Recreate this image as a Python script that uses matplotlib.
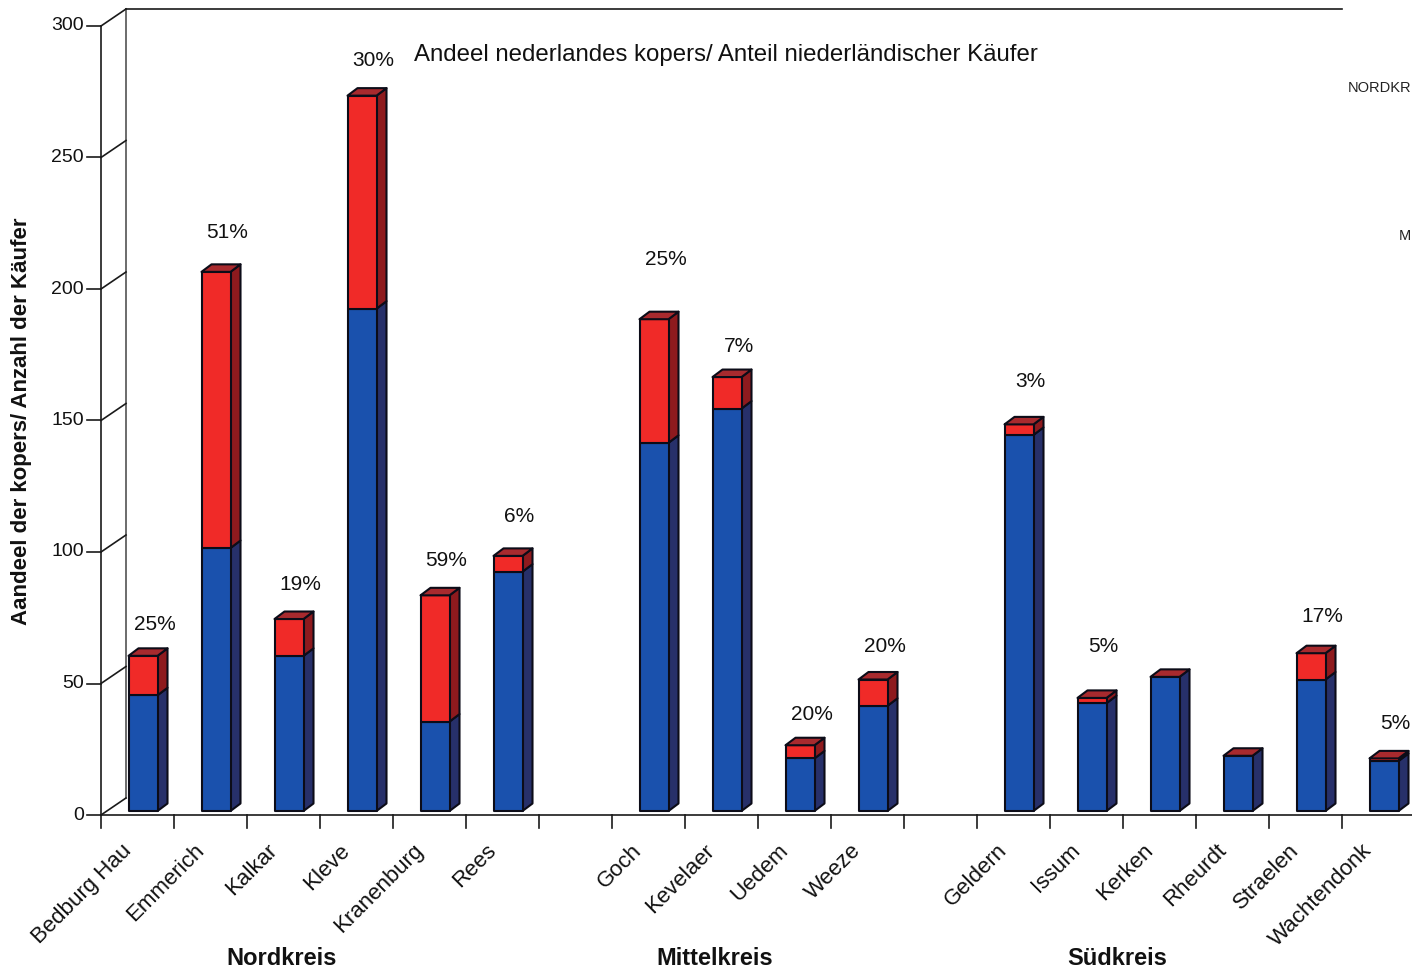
import matplotlib
matplotlib.use("Agg")
import matplotlib.pyplot as plt
from matplotlib import font_manager
from matplotlib.patches import Polygon

# ---- data -------------------------------------------------------------
towns = ["Bedburg Hau", "Emmerich", "Kalkar", "Kleve", "Kranenburg", "Rees",
         "Goch", "Kevelaer", "Uedem", "Weeze",
         "Geldern", "Issum", "Kerken", "Rheurdt", "Straelen", "Wachtendonk"]
# slot index of each town along the category axis (empty slots separate the districts)
slots = [0, 1, 2, 3, 4, 5, 7, 8, 9, 10, 12, 13, 14, 15, 16, 17]
other_buyers = [44, 100, 59, 191, 34, 91, 140, 153, 20, 40, 143, 41, 51, 21, 50, 19]
dutch_buyers = [15, 105, 14, 81, 48, 6, 47, 12, 5, 10, 4, 2, 0, 0, 10, 1]
share_labels = ["25%", "51%", "19%", "30%", "59%", "6%", "25%", "7%", "20%", "20%",
                "3%", "5%", "", "", "17%", "5%"]
# extra lift of each share label above its bar (pixels)
label_lift = [24, 32, 27, 28, 27, 32, 52, 23, 23, 25, 35, 44, 0, 0, 29, 27]
districts = ["Nordkreis", "Mittelkreis", "Südkreis"]
district_pos = [2.48, 8.41, 13.92]
y_ticks = [0, 50, 100, 150, 200, 250, 300]

# ---- fonts --------------------------------------------------------------
def available(name):
    try:
        font_manager.findfont(font_manager.FontProperties(family=name),
                              fallback_to_default=False)
        return True
    except Exception:
        return False

REG = ["Liberation Sans", "DejaVu Sans"]
NARROW = (["Liberation Sans Narrow"] if available("Liberation Sans Narrow") else []) + REG
plt.rcParams["font.family"] = REG

# ---- figure / axes -------------------------------------------------------
W, H = 1412, 972
fig = plt.figure(figsize=(W / 100, H / 100), dpi=100)
x0_px, x1_px = 101, 101 + 18 * 73
y0_px, y1_px = 815, 26
ax = fig.add_axes([x0_px / W, 1 - y0_px / H, (x1_px - x0_px) / W, (y0_px - y1_px) / H])
ax.set_xlim(0, 18)
ax.set_ylim(0, 300)
ax.axis("off")

px_x = 18 / (x1_px - x0_px)       # data units per pixel (x)
px_y = 300 / (y0_px - y1_px)      # data units per pixel (y)

# depth of the back wall and of the bars
wall_dx, wall_dy = 25 * px_x, 17 * px_y
front_dx, front_dy = 5.5 * px_x, 4 * px_y
bar_dx, bar_dy = 10 * px_x, 7.5 * px_y
bar_w = 29 * px_x

ln = dict(color="#1a1a1a", lw=1.2, clip_on=False)

# front axis lines
ax.plot([0, 0], [0, 300], **ln)
ax.plot([0, 18], [0, 0], **ln)
# back wall edge and top
ax.plot([wall_dx, wall_dx], [wall_dy, 300 + wall_dy], color="#444444", lw=1.1, clip_on=False)
ax.plot([wall_dx, 17 - 0.34 + wall_dx], [300 + wall_dy, 300 + wall_dy], **ln)

tick_len_y = 14 * px_x
for v in y_ticks:
    ax.plot([-tick_len_y, 0], [v, v], **ln)
    ax.plot([0, wall_dx], [v, v + wall_dy], **ln)
    ax.text(-tick_len_y - 3 * px_x, v, str(v), ha="right", va="center",
            fontsize=14, color="#111111", clip_on=False)

for s in range(19):
    ax.plot([s, s], [0, -13 * px_y], **ln)

# ---- bars -----------------------------------------------------------------
blue_front, blue_side = "#1a51ad", "#27306a"
red_front, red_side, red_top = "#f02a28", "#8e1a1e", "#a82a2e"
edge = "#0c0c18"

def face(pts, color):
    ax.add_patch(Polygon(pts, closed=True, facecolor=color, edgecolor=edge,
                         lw=1.5, joinstyle="round", clip_on=False))

for s, lo, hi in zip(slots, other_buyers, dutch_buyers):
    left = s + 0.5 - bar_w / 2 + front_dx
    right = left + bar_w
    base = front_dy
    mid = base + lo
    top = mid + hi
    # side faces
    face([(right, base), (right + bar_dx, base + bar_dy),
          (right + bar_dx, mid + bar_dy), (right, mid)], blue_side)
    if hi > 0:
        face([(right, mid), (right + bar_dx, mid + bar_dy),
              (right + bar_dx, top + bar_dy), (right, top)], red_side)
    # front faces
    face([(left, base), (right, base), (right, mid), (left, mid)], blue_front)
    if hi > 0:
        face([(left, mid), (right, mid), (right, top), (left, top)], red_front)
    # top face
    face([(left, top), (right, top), (right + bar_dx, top + bar_dy),
          (left + bar_dx, top + bar_dy)], red_top)

for s, lo, hi, lab, lift in zip(slots, other_buyers, dutch_buyers, share_labels, label_lift):
    if not lab:
        continue
    top = front_dy + lo + hi + bar_dy
    ax.text(s + 0.5 + 17 * px_x, top + lift * px_y, lab, ha="center", va="center",
            fontsize=15, color="#111111", clip_on=False)

# ---- category labels -------------------------------------------------------
for s, name in zip(slots, towns):
    ax.text(s + 0.5 - 17 * px_x, -25 * px_y, name, rotation=45, rotation_mode="anchor",
            ha="right", va="top", fontsize=16, color="#111111", clip_on=False)

for name, pos in zip(districts, district_pos):
    ax.text(pos, -143 * px_y, name, ha="center", va="center", fontsize=17,
            fontweight="bold", family=NARROW, color="#111111", clip_on=False)

# ---- titles -----------------------------------------------------------------
fig.text(414 / W, 1 - 55 / H, "Andeel nederlandes kopers/ Anteil niederländischer Käufer",
         ha="left", va="center", fontsize=17.3, family=NARROW, color="#111111")
fig.text(22 / W, 1 - 421 / H, "Aandeel der kopers/ Anzahl der Käufer", rotation=90,
         ha="center", va="center", fontsize=16, fontweight="bold", color="#111111")
# district legend entries at the right edge of the plot
fig.text(1348 / W, 1 - 88 / H, "NORDKR", ha="left", va="center", fontsize=10.5,
         color="#222222")
fig.text(1399 / W, 1 - 236 / H, "M", ha="left", va="center", fontsize=10.5,
         color="#222222")

fig.savefig("out.png", dpi=100, facecolor="white")
